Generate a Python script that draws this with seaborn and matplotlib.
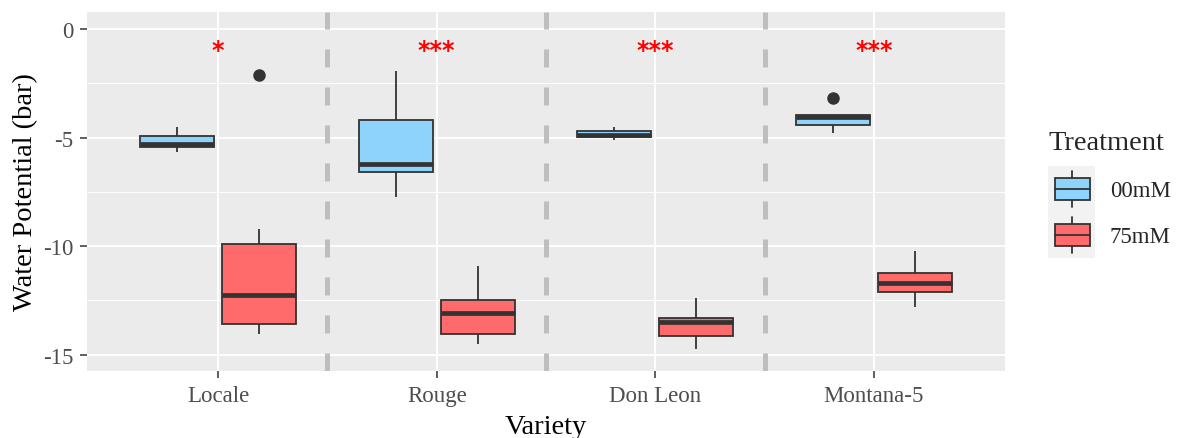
import matplotlib
matplotlib.use("Agg")
import matplotlib.pyplot as plt
from matplotlib.legend_handler import HandlerBase
from matplotlib.patches import Rectangle, Patch
from matplotlib.lines import Line2D
import seaborn as sns
import pandas as pd

# ---------------- data ----------------
varieties = ["Locale", "Rouge", "Don Leon", "Montana-5"]
treatments = ["00mM", "75mM"]

locale_00mM = [-5.68, -5.45, -5.30, -4.91, -4.53]
locale_75mM = [-14.05, -13.80, -13.59, -12.90, -12.25, -11.00, -9.90, -9.21, -2.12]
rouge_00mM = [-7.75, -6.60, -6.23, -4.18, -1.95]
rouge_75mM = [-14.51, -14.03, -13.07, -12.48, -10.93]
donleon_00mM = [-5.10, -4.99, -4.88, -4.70, -4.53]
donleon_75mM = [-14.74, -14.13, -13.51, -13.31, -12.41]
montana_00mM = [-4.80, -4.42, -4.05, -3.96, -3.20]
montana_75mM = [-12.82, -12.13, -11.68, -11.24, -10.21]

significance = ["*", "***", "***", "***"]
significance_y = -0.98

y_ticks = [-15, -10, -5, 0]
y_tick_labels = ["-15", "-10", "-5", "0"]

colors = {"00mM": "#8DD3FB", "75mM": "#FF6A6A"}

groups = {
    ("Locale", "00mM"): locale_00mM, ("Locale", "75mM"): locale_75mM,
    ("Rouge", "00mM"): rouge_00mM, ("Rouge", "75mM"): rouge_75mM,
    ("Don Leon", "00mM"): donleon_00mM, ("Don Leon", "75mM"): donleon_75mM,
    ("Montana-5", "00mM"): montana_00mM, ("Montana-5", "75mM"): montana_75mM,
}
rows = []
for (v, t), vals in groups.items():
    for val in vals:
        rows.append({"Variety": v, "Treatment": t, "WP": val})
df = pd.DataFrame(rows)

# ---------------- style ----------------
sns.set_theme(style="darkgrid")
plt.rcParams["font.family"] = ["Liberation Serif", "DejaVu Serif"]
plt.rcParams["axes.unicode_minus"] = False

fig = plt.figure(figsize=(11.77, 4.39), dpi=100)
ax = fig.add_axes([87 / 1177, 1 - 372 / 439, (1005 - 87) / 1177, (372 - 13) / 439])
ax.set_facecolor("#EBEBEB")
for s in ax.spines.values():
    s.set_visible(False)

sns.boxplot(
    data=df, x="Variety", y="WP", hue="Treatment",
    order=varieties, hue_order=treatments, palette=colors,
    width=0.75, gap=0.1, saturation=1, linewidth=1.3, linecolor="#333333",
    fliersize=8, showcaps=False, legend=False,
    medianprops=dict(linewidth=3.4, color="#333333"),
    flierprops=dict(marker="o", markerfacecolor="#333333", markeredgecolor="#333333"),
    ax=ax,
)

ax.set_xlim(-0.6, len(varieties) - 0.4)
ax.set_ylim(-15.75, 0.78)
ax.set_yticks(y_ticks)
ax.set_yticklabels(y_tick_labels)
ax.set_yticks([-12.5, -7.5, -2.5], minor=True)
ax.set_axisbelow(True)
ax.grid(which="major", color="white", linewidth=1.3)
ax.grid(which="minor", axis="y", color="white", linewidth=0.7)
ax.tick_params(which="major", length=5, width=1.1, color="#333333",
               labelcolor="#4D4D4D", labelsize=16.5, pad=5,
               bottom=True, left=True)
ax.tick_params(which="minor", length=0)

for b in range(len(varieties) - 1):
    ax.axvline(b + 0.5, color="#BEBEBE", linewidth=3.6, dashes=(3.6, 4.0), zorder=1.5)

for i, s in enumerate(significance):
    ax.text(i, significance_y, s, color="red", fontsize=17, fontweight="bold",
            ha="center", va="center", family="DejaVu Sans")

ax.set_xlabel("Variety", fontsize=20.5, color="black", labelpad=6)
ax.set_ylabel("Water Potential (bar)", fontsize=20.5, color="black", labelpad=3)


class BoxHandler(HandlerBase):
    def create_artists(self, legend, orig_handle, xdescent, ydescent, width, height, fontsize, trans):
        x0, y0 = -xdescent, -ydescent
        fc = orig_handle.get_facecolor()
        bg = Rectangle((x0, y0), width, height, facecolor="#F2F2F2", edgecolor="none", transform=trans)
        bx0, bw = x0 + 0.14 * width, 0.76 * width
        box = Rectangle((bx0, y0 + 0.25 * height), bw, 0.48 * height,
                        facecolor=fc, edgecolor="#333333", linewidth=1.3, transform=trans)
        cx = bx0 + bw / 2
        w1 = Line2D([cx, cx], [y0 + 0.1 * height, y0 + 0.25 * height], color="#333333", lw=1.3, transform=trans)
        w2 = Line2D([cx, cx], [y0 + 0.73 * height, y0 + 0.89 * height], color="#333333", lw=1.3, transform=trans)
        med = Line2D([bx0, bx0 + bw], [y0 + 0.49 * height] * 2,
                     color="#333333", lw=1.3, transform=trans)
        return [bg, box, w1, w2, med]


handles = [Patch(facecolor=colors[t]) for t in treatments]
leg = fig.legend(handles, treatments, handler_map={Patch: BoxHandler()},
                 loc="upper left", bbox_to_anchor=(1048 / 1177, 1 - 131 / 439),
                 frameon=False, fontsize=16.5, title="Treatment", title_fontsize=20.5,
                 handlelength=2.05, handleheight=2.7, labelspacing=0.0,
                 handletextpad=0.65, borderpad=0, borderaxespad=0)
leg._legend_box.align = "left"
leg._legend_box.sep = 8

fig.savefig("out.png", dpi=100)
